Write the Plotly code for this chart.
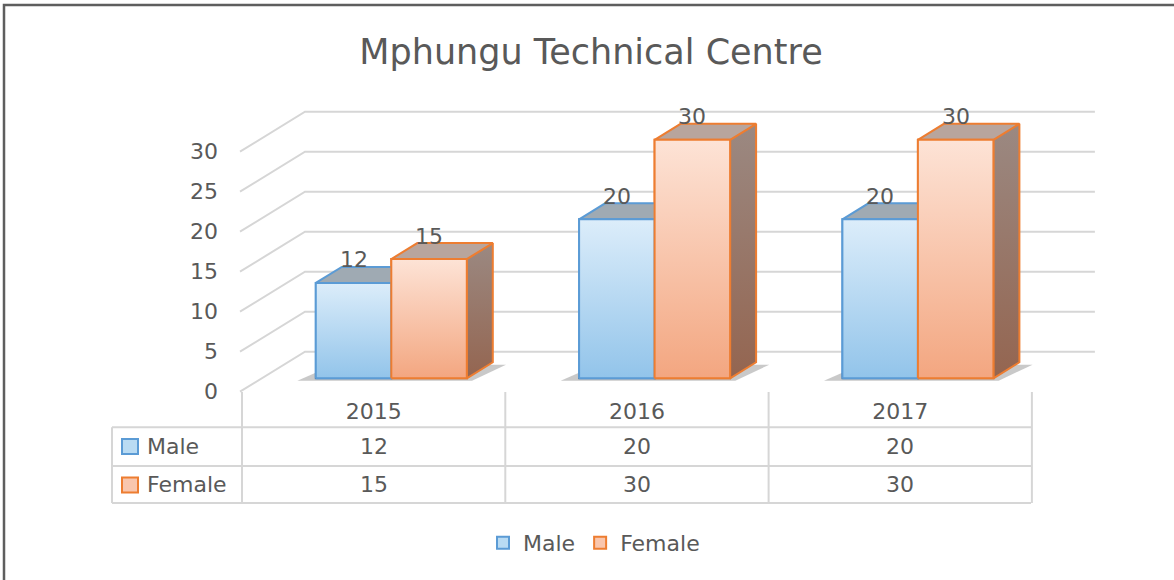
import plotly.graph_objects as go

# ---- data ----
years = ["2015", "2016", "2017"]
male = [12, 20, 20]
female = [15, 30, 30]
y_ticks = [0, 5, 10, 15, 20, 25, 30]
series_names = ["Male", "Female"]
chart_title = "Mphungu Technical Centre"

# ---- page geometry (pixels) ----
W, H = 1174, 580
FONT = "DejaVu Sans"
TXT = "#595959"
GRID = "#d6d6d6"

def px(x):
    return x / W

def py(y):
    return 1 - y / H

COL = 263.3          # px per category
WALL_UNIT = 8.0      # px per value unit on the walls
BAR_UNIT = 7.95      # px per value unit on the bar plane
FRONT_LEFT = 242     # left edge of the front (table) plane
FRONT_ZERO = 391.7   # value 0 on the front plane
BAR_CENTER0 = 391.3  # centre of the first bar pair
BAR_ZERO = 378.3     # value 0 on the bar plane

wall_x0 = -0.5 - FRONT_LEFT / COL
wall_y0 = -(H - FRONT_ZERO) / WALL_UNIT
bar_x0 = -BAR_CENTER0 / COL
bar_y0 = -(H - BAR_ZERO) / BAR_UNIT

WALL_DX = 63 / COL
WALL_DY = 40 / WALL_UNIT
BAR_W = 75.5 / COL
BAR_DX = 26 / COL
BAR_DY = 16 / BAR_UNIT

cats = list(range(len(years)))

styles = {
    "Male": dict(edge="#5b9bd5", mid="#b9dbf3", top="#dcedfa", bottom="#92c4ea",
                 lid="#9faab3", side_top="#8d9aa6", side_bottom="#7f98ad"),
    "Female": dict(edge="#ed7d31", mid="#f9c6ad", top="#fde3d6", bottom="#f3a680",
                   lid="#b8a59d", side_top="#9b8982", side_bottom="#946550"),
}

fig = go.Figure()

# ---- walls: left diagonal + back horizontal for each tick level ----
wx, wy = [], []
for v in y_ticks:
    wx += [-0.5 - 2 / COL, -0.5 + WALL_DX, len(years) - 0.5 + WALL_DX, None]
    wy += [v, v + WALL_DY, v + WALL_DY, None]
fig.add_trace(go.Scatter(x=wx, y=wy, mode="lines", line=dict(color=GRID, width=2),
                         hoverinfo="skip", showlegend=False, xaxis="x", yaxis="y"))

# ---- bars (front faces) ----
for name, vals, off in [("Male", male, -BAR_W), ("Female", female, 0.0)]:
    s = styles[name]
    fig.add_trace(go.Bar(
        x=cats, y=vals, width=BAR_W, offset=off, name=name,
        marker=dict(color=s["mid"], line=dict(color=s["edge"], width=2)),
        xaxis="x2", yaxis="y2", hoverinfo="skip",
    ))

def poly(xs, ys, edge, fill=None, grad=None, lw=2):
    kw = dict(x=xs + [xs[0]], y=ys + [ys[0]], fill="toself", mode="lines",
              line=dict(color=edge, width=lw), hoverinfo="skip", showlegend=False,
              xaxis="x2", yaxis="y2")
    if grad is not None:
        kw["fillgradient"] = dict(type="vertical", colorscale=[[0, grad[0]], [1, grad[1]]])
        kw["fillcolor"] = grad[0]
    else:
        kw["fillcolor"] = fill
    fig.add_trace(go.Scatter(**kw))

# soft floor shadows under each pair
for i in cats:
    left, right = i - BAR_W, i + BAR_W
    poly([left - 0.07, right + 0.02, right + BAR_DX + 0.05, left + BAR_DX - 0.03],
         [-0.3, -0.3, BAR_DY - 0.3, BAR_DY - 0.3],
         "rgba(0,0,0,0)", fill="rgba(60,60,60,0.28)", lw=0)

# 3-D faces: side, lid, gradient front
for i in cats:
    for name, vals, off in [("Male", male, -BAR_W), ("Female", female, 0.0)]:
        s = styles[name]
        v = vals[i]
        l, r = i + off, i + off + BAR_W
        poly([r, r, r + BAR_DX, r + BAR_DX], [0, v, v + BAR_DY, BAR_DY], s["edge"],
             grad=(s["side_bottom"], s["side_top"]))
        poly([l, r, r + BAR_DX, l + BAR_DX], [v, v, v + BAR_DY, v + BAR_DY], s["edge"],
             fill=s["lid"])
        poly([l, r, r, l], [0, 0, v, v], s["edge"], grad=(s["bottom"], s["top"]))

annotations = []

# value labels above each bar
for name, vals, off in [("Male", male, -BAR_W), ("Female", female, 0.0)]:
    for i in cats:
        annotations.append(dict(
            x=i + off + BAR_W / 2, y=vals[i], xref="x2", yref="y2", text=str(vals[i]),
            showarrow=False, yshift=23, yanchor="middle",
            font=dict(family=FONT, size=22, color=TXT)))

# ---- data table ----
ROW_Y = {"Male": 446.5, "Female": 485}
for name, vals in [("Male", male), ("Female", female)]:
    for i in cats:
        annotations.append(dict(
            x=i, y=py(ROW_Y[name]), xref="x", yref="paper", text=str(vals[i]),
            xanchor="center", yanchor="middle", showarrow=False,
            font=dict(family=FONT, size=22, color=TXT)))
    annotations.append(dict(
        x=px(145), y=py(ROW_Y[name]), xref="paper", yref="paper", text=name,
        xanchor="left", yanchor="middle", showarrow=False,
        font=dict(family=FONT, size=22, color=TXT)))

shapes = []
line_style = dict(color=GRID, width=2)
for yy in [427.3, 466, 503]:
    shapes.append(dict(type="line", xref="paper", yref="paper",
                       x0=px(112), x1=px(1031), y0=py(yy), y1=py(yy), line=line_style))
shapes.append(dict(type="line", xref="paper", yref="paper",
                   x0=px(112), x1=px(112), y0=py(427.3), y1=py(503), line=line_style))
for k in range(len(years) + 1):
    shapes.append(dict(type="line", xref="x", yref="paper",
                       x0=k - 0.5, x1=k - 0.5, y0=py(392), y1=py(503), line=line_style))
# legend keys inside the table
for name in series_names:
    s = styles[name]
    shapes.append(dict(type="rect", xref="paper", yref="paper",
                       x0=px(122), x1=px(138), y0=py(ROW_Y[name] - 7.5), y1=py(ROW_Y[name] + 7.5),
                       fillcolor=s["mid"], line=dict(color=s["edge"], width=2)))

# outer chart frame
shapes.append(dict(type="rect", xref="paper", yref="paper", x0=px(4), x1=1.05,
                   y0=-0.05, y1=py(5), line=dict(color="#5e5e5e", width=2.5),
                   fillcolor="rgba(0,0,0,0)", layer="above"))

fig.update_layout(
    width=W, height=H, autosize=False,
    margin=dict(l=0, r=0, t=0, b=0),
    paper_bgcolor="white", plot_bgcolor="rgba(0,0,0,0)",
    barmode="overlay",
    font=dict(family=FONT, color=TXT),
    title=dict(text=chart_title, x=px(591), xanchor="center", y=py(52), yanchor="middle",
               font=dict(family=FONT, size=35, color=TXT)),
    xaxis=dict(domain=[0, 1], range=[wall_x0, wall_x0 + W / COL], tickvals=cats,
               ticktext=years, anchor="free", position=py(392), showgrid=False,
               zeroline=False, showline=False, ticks="", ticklabelstandoff=4,
               tickfont=dict(family=FONT, size=22, color=TXT), fixedrange=True),
    yaxis=dict(domain=[0, 1], range=[wall_y0, wall_y0 + H / WALL_UNIT], tickvals=y_ticks,
               anchor="free", position=px(240), showgrid=False, zeroline=False,
               showline=False, ticks="", ticklabelstandoff=22,
               tickfont=dict(family=FONT, size=22, color=TXT), fixedrange=True),
    xaxis2=dict(domain=[0, 1], range=[bar_x0, bar_x0 + W / COL], visible=False,
                anchor="y2", fixedrange=True),
    yaxis2=dict(domain=[0, 1], range=[bar_y0, bar_y0 + H / BAR_UNIT], visible=False,
                anchor="x2", fixedrange=True),
    legend=dict(orientation="h", x=px(594), xanchor="center", y=py(543), yanchor="middle",
                font=dict(family=FONT, size=22, color=TXT), bgcolor="rgba(0,0,0,0)"),
    annotations=annotations,
    shapes=shapes,
    showlegend=True,
)

fig.write_html("out.html", config=dict(displayModeBar=False, staticPlot=True))
